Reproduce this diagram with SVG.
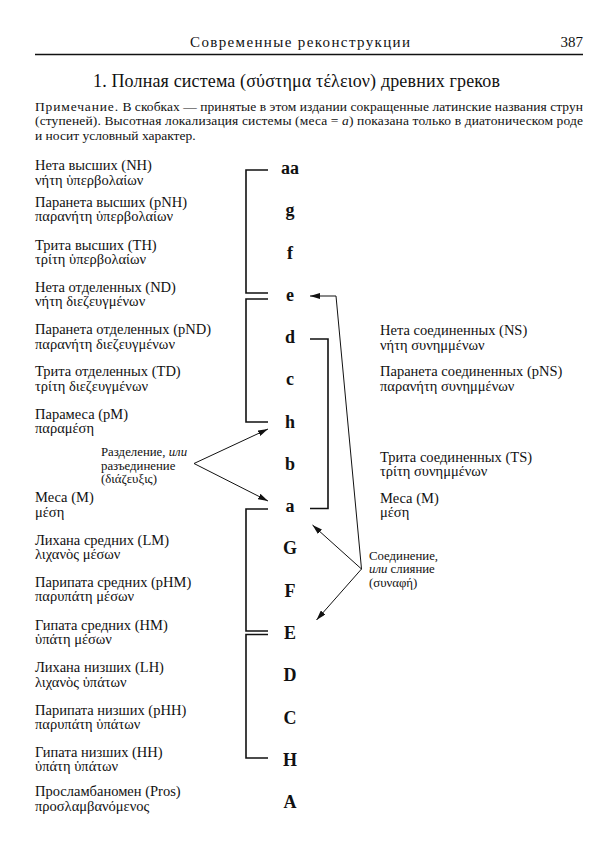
<svg xmlns="http://www.w3.org/2000/svg" width="600" height="851" viewBox="0 0 600 851" font-family="'Liberation Serif', 'DejaVu Serif', serif">
<style>
text{font-family:"Liberation Serif","DejaVu Serif",serif;fill:#111}
.hdr{font-size:15px}
.ttl{font-size:18px}
.note{font-size:13.5px}
.lab{font-size:14.5px}
.sm{font-size:12.8px}
.let{font-size:18px;font-weight:bold;text-anchor:middle}
.br{fill:none;stroke:#111;stroke-width:1.6}
.ar{fill:none;stroke:#111;stroke-width:1}
</style>
<defs>
<marker id="ah" viewBox="0 0 10 6" refX="10" refY="3" markerWidth="10" markerHeight="6" markerUnits="userSpaceOnUse" orient="auto">
<path d="M0,0 L10,3 L0,6 z" fill="#111"/>
</marker>
</defs>
<g id="header">
<text class="hdr" x="190" y="47" textLength="220">Современные реконструкции</text>
<text class="hdr" x="583" y="47" text-anchor="end">387</text>
<line x1="35" y1="54.5" x2="583" y2="54.5" stroke="#111" stroke-width="1.5"/>
</g>
<g id="title">
<text class="ttl" x="93" y="87" textLength="407">1. Полная система (σύστημα τέλειον) древних греков</text>
</g>
<g id="note">
<text class="note" x="35" y="110.5" textLength="548"><tspan letter-spacing="0.8">Примечание.</tspan> В скобках — принятые в этом издании сокращенные латинские названия струн</text>
<text class="note" x="35" y="125" textLength="548">(ступеней). Высотная локализация системы (меса = <tspan font-style="italic">a</tspan>) показана только в диатоническом роде</text>
<text class="note" x="35" y="139.5">и носит условный характер.</text>
</g>
<g id="left-labels" class="lab">
<text x="35" y="170">Нета высших (NH)</text><text x="35" y="184.5">νήτη ὑπερβολαίων</text>
<text x="35" y="206.5">Паранета высших (pNH)</text><text x="35" y="221">παρανήτη ὑπερβολαίων</text>
<text x="35" y="249.5">Трита высших (TH)</text><text x="35" y="264">τρίτη ὑπερβολαίων</text>
<text x="35" y="291.5">Нета отделенных (ND)</text><text x="35" y="306">νήτη διεζευγμένων</text>
<text x="35" y="333.5">Паранета отделенных (pND)</text><text x="35" y="348.5">παρανήτη διεζευγμένων</text>
<text x="35" y="376">Трита отделенных (TD)</text><text x="35" y="390.5">τρίτη διεζευγμένων</text>
<text x="35" y="418.5">Парамеса (pM)</text><text x="35" y="433">παραμέση</text>
<text x="35" y="502">Меса (М)</text><text x="35" y="516.5">μέση</text>
<text x="35" y="544.5">Лихана средних (LM)</text><text x="35" y="559">λιχανὸς μέσων</text>
<text x="35" y="586.5">Парипата средних (pHM)</text><text x="35" y="601">παρυπάτη μέσων</text>
<text x="35" y="629.5">Гипата средних (HM)</text><text x="35" y="644">ὑπάτη μέσων</text>
<text x="35" y="672">Лихана низших (LH)</text><text x="35" y="686.5">λιχανὸς ὑπάτων</text>
<text x="35" y="714.5">Парипата низших (pHH)</text><text x="35" y="729">παρυπάτη ὑπάτων</text>
<text x="35" y="756.5">Гипата низших (HH)</text><text x="35" y="771">ὑπάτη ὑπάτων</text>
<text x="35" y="796">Просламбаномен (Pros)</text><text x="35" y="810.5">προσλαμβανόμενος</text>
</g>
<g id="right-labels" class="lab">
<text x="380" y="334.5">Нета соединенных (NS)</text><text x="380" y="349.5">νήτη συνημμένων</text>
<text x="380" y="375.5">Паранета соединенных (pNS)</text><text x="380" y="390.5">παρανήτη συνημμένων</text>
<text x="380" y="461.5">Трита соединенных (TS)</text><text x="380" y="476">τρίτη συνημμένων</text>
<text x="380" y="502.5">Меса (М)</text><text x="380" y="517">μέση</text>
</g>
<g id="letters" class="let">
<text x="290" y="174">aa</text>
<text x="290" y="216.3">g</text>
<text x="290" y="258.5">f</text>
<text x="290" y="300.8">e</text>
<text x="290" y="343.1">d</text>
<text x="290" y="385.3">c</text>
<text x="290" y="427.6">h</text>
<text x="290" y="469.9">b</text>
<text x="290" y="512.1">a</text>
<text x="290" y="554.4">G</text>
<text x="290" y="596.7">F</text>
<text x="290" y="639">E</text>
<text x="290" y="681.2">D</text>
<text x="290" y="723.5">C</text>
<text x="290" y="765.8">H</text>
<text x="290" y="808">A</text>
</g>
<g id="sep-label" class="sm">
<text x="101" y="456">Разделение, <tspan font-style="italic">или</tspan></text>
<text x="101" y="469.5">разъединение</text>
<text x="101" y="483">(διάζευξις)</text>
</g>
<g id="conj-label" class="sm">
<text x="369" y="559.5">Соединение,</text>
<text x="369" y="573"><tspan font-style="italic">или</tspan> слияние</text>
<text x="369" y="586.5">(συναφή)</text>
</g>
<g id="connectors">
<path class="br" d="M268,170 H246 V293 H268"/>
<path class="br" d="M268,299 H246 V422 H268"/>
<path class="br" d="M268,509 H246 V631 H268"/>
<path class="br" d="M268,634.5 H246 V758 H268"/>
<path class="br" d="M310,339 H328 V508.5 H310"/>
<path class="ar" d="M194,463.5 L268,429" marker-end="url(#ah)"/>
<path class="ar" d="M194,463.5 L268,501" marker-end="url(#ah)"/>
<path class="ar" d="M361.5,569 L336,296 H310" marker-end="url(#ah)"/>
<path class="ar" d="M361.5,569 L312.5,525" marker-end="url(#ah)"/>
<path class="ar" d="M361.5,569 L316.5,620" marker-end="url(#ah)"/>
</g>
</svg>
